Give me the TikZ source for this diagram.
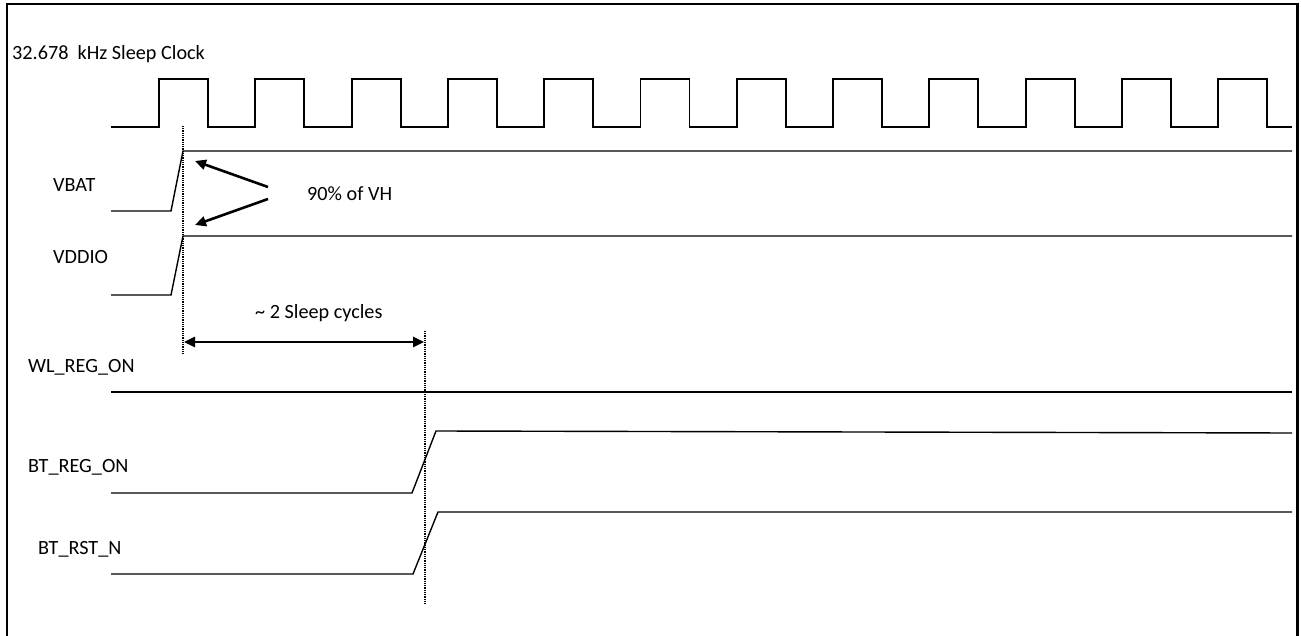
\documentclass[tikz,border=0pt]{standalone}
\usepackage{fontspec}
\setmainfont{Carlito}
\usetikzlibrary{arrows.meta}
\begin{document}
\begin{tikzpicture}[x=1pt,y=-1pt,
  lbl/.style={anchor=base west,inner sep=0pt,font=\fontsize{20.2}{24}\selectfont},
  clk/.style={line width=1.9pt,line join=miter},
  sig/.style={line width=1.4pt},
  vline/.style={line width=2pt,dash pattern=on 1pt off 0.8pt},
  fat/.style={line width=2.6pt,-{Triangle[length=11pt,width=10pt]}},
  dbl/.style={line width=2.6pt,{Triangle[length=11pt,width=10pt]}-{Triangle[length=11pt,width=10pt]}},
  frame/.style={line width=2.2pt}]
\useasboundingbox (0,0) rectangle (1301,636);
% frame (open at the bottom)
\draw[frame] (7,636) -- (7,4) -- (1297.5,4) -- (1297.5,636);
% labels
\node[lbl] (tclk) at (12,60) {32.678\ \ kHz Sleep Clock};
\node[lbl] (tvbat) at (53,192) {VBAT};
\node[lbl] (tvddio) at (53,264) {VDDIO};
\node[lbl] (tvh) at (307,201) {90\% of VH};
\node[lbl] (tcyc) at (255,319) {\char`~\ 2 Sleep cycles};
\node[lbl] (twl) at (28,372) {WL\_REG\_ON};
\node[lbl] (tbtreg) at (28,472) {BT\_REG\_ON};
\node[lbl] (tbtrst) at (38,554) {BT\_RST\_N};
% sleep clock
\draw[clk] (111,127)
  \foreach \k in {0,...,11} {
    -- ({159+96.3*\k},127) -- ({159+96.3*\k},79)
    -- ({208+96.3*\k},79) -- ({208+96.3*\k},127) }
  -- (1292,127);
% VBAT / VDDIO
\draw[sig] (111,211) -- (171,211) -- (183,151) -- (1292,151);
\draw[sig] (111,295) -- (171,295) -- (183,236) -- (1292,236);
% WL_REG_ON
\draw[sig] (111,392) -- (1292,392);
% BT_REG_ON
\draw[sig] (111,493) -- (412,493) -- (436,431) -- (1292,433);
% BT_RST_N
\draw[sig] (111,574) -- (413,574) -- (438,512) -- (1292,512);
% dotted markers
\coordinate (d1a) at (183,126);
\coordinate (d1b) at (183,354);
\coordinate (d2a) at (424.5,331);
\coordinate (d2b) at (424.5,604);
\draw[vline] (d1a) -- (d1b);
\draw[vline] (d2a) -- (d2b);
% 90% of VH arrows
\coordinate (a0) at (268,187);
\coordinate (a1) at (195,161);
\coordinate (b0) at (268,199);
\coordinate (b1) at (195,225);
\draw[fat] (a0) -- (a1);
\draw[fat] (b0) -- (b1);
% ~2 sleep cycles
\coordinate (c0) at (184,342);
\coordinate (c1) at (424,342);
\draw[dbl] (c0) -- (c1);
\end{tikzpicture}
\end{document}
